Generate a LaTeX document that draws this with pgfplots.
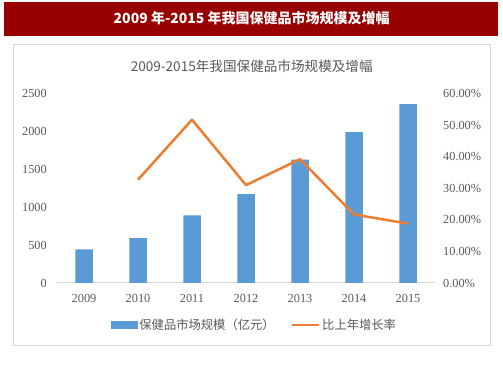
\documentclass[border=0pt]{standalone}
\usepackage{fontspec}
\usepackage{pgfplots}
\pgfplotsset{compat=1.18}
\setmainfont{Liberation Serif}
\newfontfamily\cjk{Noto Sans CJK SC}
\definecolor{barblue}{HTML}{5B9BD5}
\definecolor{lineorange}{HTML}{ED7D31}
\definecolor{txtgray}{HTML}{595959}
\definecolor{axgray}{HTML}{D9D9D9}
\definecolor{hdrred}{HTML}{990000}
\begin{document}
\begin{tikzpicture}
\useasboundingbox (0,0) rectangle (503bp,378bp);
\fill[white] (0,0) rectangle (503bp,378bp);
% header bar
\fill[hdrred] (4bp,342.3bp) rectangle (497.7bp,376bp);
\node[text=white, font=\cjk\bfseries\fontsize{14bp}{17bp}\selectfont, inner sep=0pt] at (251.7bp,359.5bp) {2009 年-2015 年我国保健品市场规模及增幅};
% chart frame
\draw[axgray, line width=1bp] (13.5bp,32bp) rectangle (490bp,333bp);
% chart title
\node[text=txtgray, font=\cjk\fontsize{13.6bp}{16bp}\selectfont, inner sep=0pt] at (251.7bp,311.3bp) {2009-2015年我国保健品市场规模及增幅};
\begin{axis}[
  at={(57bp,95bp)}, anchor=south west,
  scale only axis, width=378bp, height=189.5bp,
  xmin=-0.5, xmax=6.5, ymin=0, ymax=2500,
  ytick={0,500,1000,1500,2000,2500},
  xtick={0,1,2,3,4,5,6},
  xticklabels={2009,2010,2011,2012,2013,2014,2015},
  axis y line*=left, axis x line*=bottom,
  y axis line style={draw=none},
  x axis line style={axgray, line width=1bp},
  tick style={draw=none},
  major tick length=0pt,
  /pgf/number format/assume math mode=true,
  /pgf/number format/1000 sep={},
  tick label style={font=\fontsize{12.3bp}{14bp}\selectfont, text=txtgray, inner sep=0pt},
  yticklabel style={xshift=-10bp},
  xticklabel style={yshift=-11bp},
  clip=false,
]
\addplot[ybar, bar width=17.5bp, bar shift=0pt, fill=barblue, draw=none]
  coordinates {(0,443) (1,592) (2,891) (3,1171) (4,1627) (5,1991) (6,2359)};
\end{axis}
\begin{axis}[
  at={(57bp,95bp)}, anchor=south west,
  scale only axis, width=378bp, height=189.5bp,
  xmin=-0.5, xmax=6.5, ymin=0, ymax=60,
  ytick={0,10,20,30,40,50,60},
  axis y line*=right, axis x line=none,
  y axis line style={draw=none},
  tick style={draw=none},
  major tick length=0pt,
  yticklabel={\pgfmathprintnumber[fixed,fixed zerofill,precision=2]{\tick}\%},
  /pgf/number format/assume math mode=true,
  tick label style={font=\fontsize{12.3bp}{14bp}\selectfont, text=txtgray, inner sep=0pt},
  yticklabel style={xshift=8bp},
  legend columns=2,
  legend style={at={(axis description cs:0.5225,-0.2216)}, anchor=center, draw=none, fill=none,
    font=\cjk\fontsize{12.3bp}{14bp}\selectfont, text=txtgray,
    /tikz/every even column/.append style={column sep=14bp}},
  clip=false,
]
\addlegendimage{legend image code/.code={\fill[barblue] (0bp,-3.5bp) rectangle (26bp,3.5bp);}}
\addlegendentry{保健品市场规模（亿元）}
\addplot[lineorange, line width=2.5bp, line join=round,
  legend image code/.code={\draw[lineorange, line width=2.5bp] (0bp,0bp) -- (27bp,0bp);}]
  coordinates {(1,32.7) (2,51.7) (3,31.0) (4,39.2) (5,21.7) (6,18.8)};
\addlegendentry{比上年增长率}
\end{axis}
\end{tikzpicture}
\end{document}
